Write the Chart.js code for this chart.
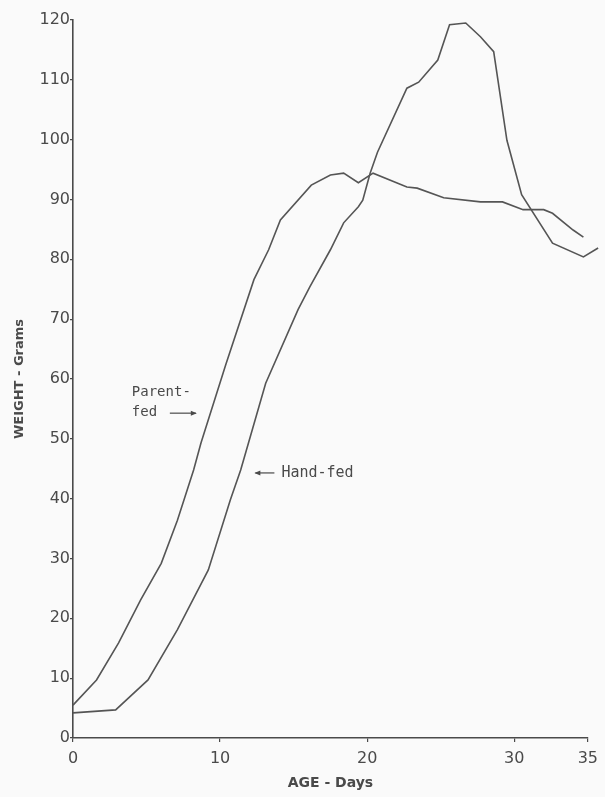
<!DOCTYPE html>
<html>
<head>
<meta charset="utf-8">
<script src="https://cdn.jsdelivr.net/npm/chart.js@4.4.1/dist/chart.umd.min.js"></script>
<style>
    html, body { margin: 0; padding: 0; background: #fafafa; }
    #wrap { width: 605px; height: 797px; }
</style>
</head>
<body>
<div id="wrap"><canvas id="growthChart" width="605" height="797"></canvas></div>
<script>
// values (age in days, weight in grams)
const parentDays = [0, 1.6, 3.1, 4.6, 6, 7.1, 8.2, 8.7, 10.4, 12.3, 13.3, 14.1, 16.2, 17.5, 18.4, 19.4, 20.4, 22.7, 23.4, 25.2, 27.7, 29.2, 30.6, 32, 32.6, 34, 34.7];
const parentWeights = [5.5, 9.7, 15.9, 23.1, 29.2, 36.4, 44.8, 49.3, 62.5, 76.6, 81.6, 86.6, 92.4, 94.1, 94.4, 92.8, 94.4, 92.1, 91.9, 90.3, 89.6, 89.6, 88.3, 88.3, 87.7, 84.9, 83.7];

const handDays = [0, 2.9, 5.1, 7.1, 9.2, 10.7, 11.4, 13.1, 15.3, 16.1, 17.5, 18.4, 19.4, 19.7, 20.2, 20.7, 22.7, 23.5, 24.8, 25.6, 26.7, 27.7, 28.6, 29.5, 30.5, 32.6, 34.7, 35.7];
const handWeights = [4.2, 4.7, 9.7, 18.1, 28.1, 39.8, 44.8, 59.3, 71.6, 75.4, 81.6, 86.1, 88.8, 89.9, 94.4, 97.9, 108.6, 109.6, 113.3, 119.2, 119.5, 117.2, 114.7, 99.9, 90.8, 82.7, 80.4, 81.9];

const xTicks = [0, 10, 20, 30, 35];
const yTicks = [0, 10, 20, 30, 40, 50, 60, 70, 80, 90, 100, 110, 120];

const ink = '#4a4a4a';
const toPoints = (xs, ys) => xs.map((x, i) => ({ x: x, y: ys[i] }));

// the two lettered curve labels with their arrows
const curveLabels = {
    id: 'curveLabels',
    afterDatasetsDraw(chart) {
        const { ctx, scales: { x, y } } = chart;
        ctx.save();
        ctx.fillStyle = ink;
        ctx.strokeStyle = ink;
        ctx.lineWidth = 1.2;
        ctx.textBaseline = 'middle';

        // Parent-fed, arrow pointing right
        ctx.font = '14px "DejaVu Sans Mono", monospace';
        let px = x.getPixelForValue(4.0), py = y.getPixelForValue(57.8);
        ctx.fillText('Parent-', px, py);
        ctx.fillText('fed', px, py + 20);
        let ax = px + 38, ay = py + 21;
        ctx.beginPath(); ctx.moveTo(ax, ay); ctx.lineTo(ax + 26, ay); ctx.stroke();
        ctx.beginPath(); ctx.moveTo(ax + 27, ay); ctx.lineTo(ax + 21, ay - 2.5); ctx.lineTo(ax + 21, ay + 2.5); ctx.closePath(); ctx.fill();

        // Hand-fed, arrow pointing left
        ctx.font = '15px "DejaVu Sans Mono", monospace';
        px = x.getPixelForValue(12.4); py = y.getPixelForValue(44.3);
        ctx.beginPath(); ctx.moveTo(px, py); ctx.lineTo(px + 19, py); ctx.stroke();
        ctx.beginPath(); ctx.moveTo(px - 1, py); ctx.lineTo(px + 5, py - 2.5); ctx.lineTo(px + 5, py + 2.5); ctx.closePath(); ctx.fill();
        ctx.fillText('Hand-fed', px + 26, py);
        ctx.restore();
    }
};

new Chart(document.getElementById('growthChart'), {
    type: 'line',
    data: {
        datasets: [
            { label: 'Parent-fed', data: toPoints(parentDays, parentWeights) },
            { label: 'Hand-fed', data: toPoints(handDays, handWeights) }
        ]
    },
    options: {
        responsive: false,
        animation: false,
        layout: { padding: { top: 20, right: 17, left: 0, bottom: 0 } },
        elements: {
            line: { borderColor: '#555', borderWidth: 1.6, tension: 0 },
            point: { radius: 0 }
        },
        datasets: { line: { clip: false } },
        plugins: { legend: { display: false }, tooltip: { enabled: false } },
        scales: {
            x: {
                type: 'linear',
                min: 0,
                max: 35,
                afterFit: s => { s.height = 59; },
                afterBuildTicks: s => { s.ticks = xTicks.map(v => ({ value: v })); },
                grid: { drawOnChartArea: false, tickLength: 4, color: ink, lineWidth: 1.2 },
                border: { color: ink, width: 1.6 },
                ticks: { color: ink, padding: 7, maxRotation: 0, font: { family: 'DejaVu Sans', size: 16 } },
                title: {
                    display: true,
                    text: 'AGE - Days',
                    color: ink,
                    padding: { top: 0, bottom: 5 },
                    font: { family: 'DejaVu Sans', size: 14, weight: '600' }
                }
            },
            y: {
                min: 0,
                max: 120,
                afterFit: s => { s.width = 73; },
                afterBuildTicks: s => { s.ticks = yTicks.map(v => ({ value: v })); },
                grid: { drawOnChartArea: false, tickLength: 3, color: ink, lineWidth: 1.2 },
                border: { color: ink, width: 1.6 },
                ticks: { color: ink, padding: 0, font: { family: 'DejaVu Sans', size: 16 } },
                title: {
                    display: true,
                    text: 'WEIGHT - Grams',
                    color: ink,
                    padding: { top: 12, bottom: 0 },
                    font: { family: 'DejaVu Sans', size: 13, weight: '600' }
                }
            }
        }
    },
    plugins: [curveLabels]
});
</script>
</body>
</html>
